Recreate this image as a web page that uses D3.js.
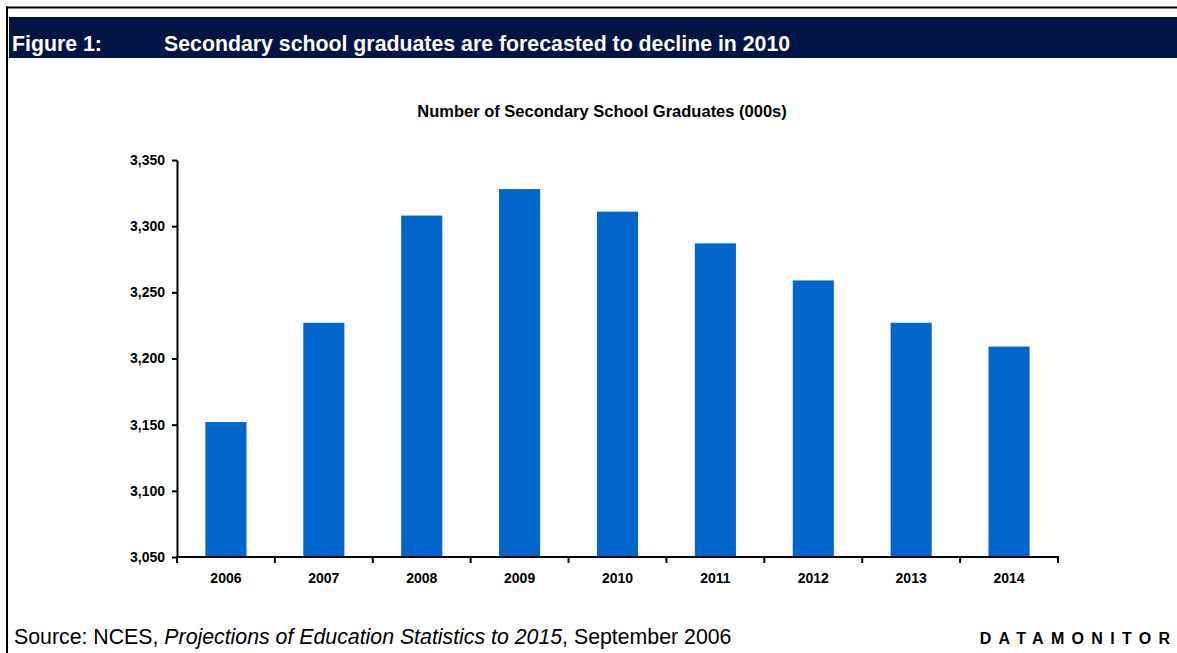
<!DOCTYPE html>
<html>
<head>
<meta charset="utf-8">
<script src="https://cdn.jsdelivr.net/npm/d3@7"></script>
<style>
  html, body { margin: 0; padding: 0; background: #fff; }
  svg { display: block; font-family: "Liberation Sans", Arial, sans-serif; }
</style>
</head>
<body>
<svg id="chart"></svg>
<script>
// data (thousands of graduates)
const years = ["2006", "2007", "2008", "2009", "2010", "2011", "2012", "2013", "2014"];
const graduates = [3152, 3227, 3308, 3328, 3311, 3287, 3259, 3227, 3209];
const yTicks = [3050, 3100, 3150, 3200, 3250, 3300, 3350];

const W = 1177, H = 653;
const plot = { left: 177, right: 1058, top: 160, bottom: 557 };

const svg = d3.select("#chart")
    .attr("width", W)
    .attr("height", H);

// frame: top rule and left rule
svg.append("line")
    .attr("x1", 6).attr("x2", W).attr("y1", 7.5).attr("y2", 7.5)
    .attr("stroke", "#000").attr("stroke-width", 2);
svg.append("line")
    .attr("x1", 7).attr("x2", 7).attr("y1", 6.5).attr("y2", H)
    .attr("stroke", "#000").attr("stroke-width", 2);

// dark header band
svg.append("rect")
    .attr("x", 9).attr("y", 17)
    .attr("width", W - 9).attr("height", 41)
    .attr("fill", "#001446");
svg.append("text")
    .attr("x", 12).attr("y", 51)
    .style("font-size", "21.3px").style("font-weight", "bold")
    .style("fill", "#fff")
    .text("Figure 1:");
svg.append("text")
    .attr("x", 164).attr("y", 51)
    .style("font-size", "21.3px").style("font-weight", "bold")
    .style("fill", "#fff")
    .text("Secondary school graduates are forecasted to decline in 2010");

// chart title
svg.append("text")
    .attr("x", 602).attr("y", 117)
    .attr("text-anchor", "middle")
    .style("font-size", "16.5px").style("font-weight", "bold")
    .text("Number of Secondary School Graduates (000s)");

// scales
const x = d3.scaleBand()
    .domain(years)
    .range([plot.left, plot.right])
    .paddingInner(0.58)
    .paddingOuter(0.29);

const y = d3.scaleLinear()
    .domain([3050, 3350])
    .range([plot.bottom, plot.top]);

// bars
svg.append("g")
    .selectAll("rect")
    .data(years)
    .join("rect")
    .attr("x", d => x(d))
    .attr("width", x.bandwidth())
    .attr("y", (d, i) => y(graduates[i]))
    .attr("height", (d, i) => y(3050) - y(graduates[i]))
    .attr("fill", "#0066cc");

// y axis
const yAxis = svg.append("g")
    .attr("transform", `translate(${plot.left},0)`)
    .call(d3.axisLeft(y).tickValues(yTicks).tickFormat(d3.format(",")).tickSize(5).tickSizeOuter(0));
yAxis.select(".domain").attr("stroke-width", 2);
yAxis.selectAll(".tick line").attr("stroke-width", 2);
yAxis.selectAll(".tick text")
    .attr("x", -12)
    .style("font-size", "14px").style("font-weight", "bold")
    .style("font-family", "'Liberation Sans', Arial, sans-serif")
    .attr("fill", "#000");

// x axis: ticks on category boundaries
const xAxisG = svg.append("g")
    .attr("transform", `translate(0,${plot.bottom})`);
xAxisG.append("line")
    .attr("x1", plot.left - 1).attr("x2", plot.right + 1)
    .attr("stroke", "#000").attr("stroke-width", 2);
const bounds = years.map(d => x(d) - x.step() * x.paddingOuter()).concat([plot.right]);
xAxisG.selectAll(".xt")
    .data(bounds)
    .join("line")
    .attr("class", "xt")
    .attr("x1", d => d).attr("x2", d => d)
    .attr("y1", 0).attr("y2", 6)
    .attr("stroke", "#000").attr("stroke-width", 2);
xAxisG.selectAll(".xl")
    .data(years)
    .join("text")
    .attr("class", "xl")
    .attr("x", d => x(d) + x.bandwidth() / 2)
    .attr("y", 26)
    .attr("text-anchor", "middle")
    .style("font-size", "14px").style("font-weight", "bold")
    .text(d => d);

// footer
const src = svg.append("text")
    .attr("x", 14).attr("y", 644)
    .style("font-size", "21.3px");
src.append("tspan").text("Source: NCES, ");
src.append("tspan").style("font-style", "italic").text("Projections of Education Statistics to 2015");
src.append("tspan").text(", September 2006");

svg.append("text")
    .attr("x", 1177.3).attr("y", 644)
    .attr("text-anchor", "end")
    .style("font-size", "16px").style("font-weight", "bold")
    .style("letter-spacing", "7.3px")
    .text("DATAMONITOR");
</script>
</body>
</html>
